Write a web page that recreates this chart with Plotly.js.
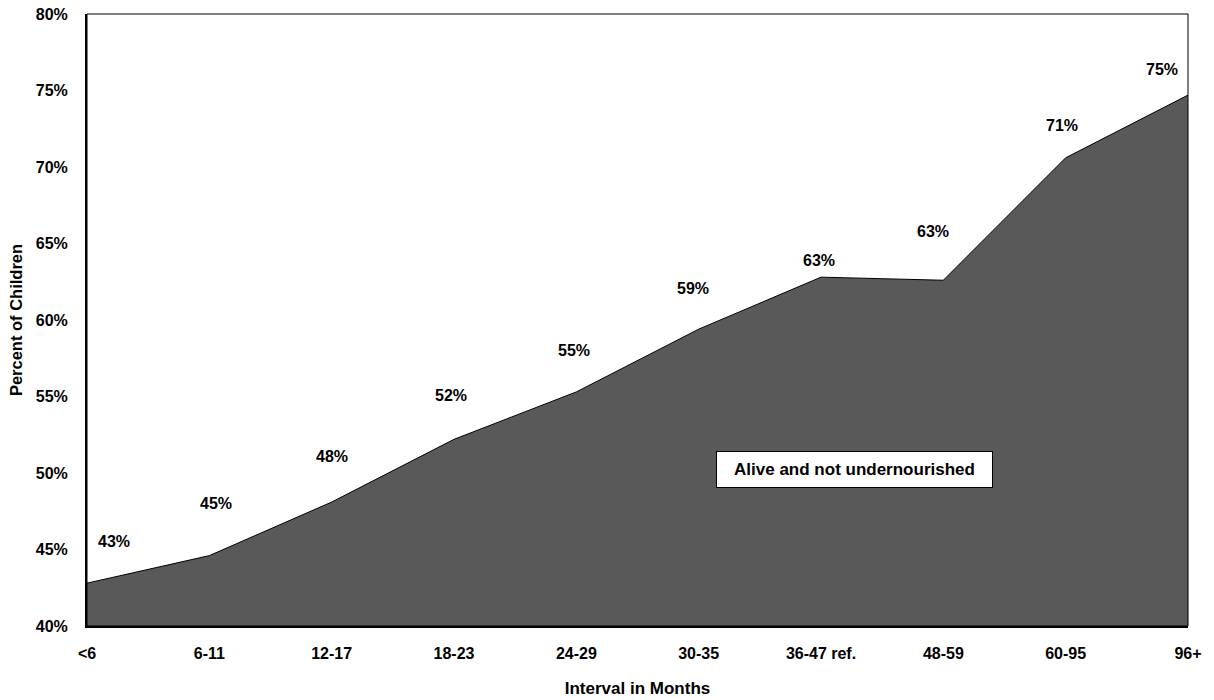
<!DOCTYPE html>
<html>
<head>
<meta charset="utf-8">
<script src="https://cdn.plot.ly/plotly-3.0.1.min.js"></script>
<style>
  html, body { margin: 0; padding: 0; background: #ffffff; }
  #chart { width: 1214px; height: 700px; }
</style>
</head>
<body>
<div id="chart"></div>
<script>
// Birth interval categories (months) and share of children alive and not undernourished
const intervals = ['<6', '6-11', '12-17', '18-23', '24-29', '30-35', '36-47 ref.', '48-59', '60-95', '96+'];
const percentAlive = [42.8, 44.6, 48.1, 52.2, 55.3, 59.4, 62.8, 62.6, 70.6, 74.7];
const yTickValues = [40, 45, 50, 55, 60, 65, 70, 75, 80];

// Pixel offsets for the value labels sitting above the area edge
const labelShiftX = [27, 7, 0, -3, -2, -6, -2, -10, -4, -26];
const labelShiftY = [42, 52, 46, 44, 41, 41, 17, 49, 32, 26];

const font = 'Liberation Sans, Arial, sans-serif';

const area = {
  type: 'scatter',
  mode: 'lines',
  x: intervals,
  y: percentAlive,
  fill: 'tozeroy',
  fillcolor: '#595959',
  line: { color: '#000000', width: 1 },
  hoverinfo: 'x+y',
  showlegend: false
};

const valueLabels = intervals.map((cat, i) => ({
  x: cat,
  y: percentAlive[i],
  xref: 'x',
  yref: 'y',
  text: '<b>' + Math.round(percentAlive[i]) + '%</b>',
  showarrow: false,
  xanchor: 'center',
  yanchor: 'middle',
  xshift: labelShiftX[i],
  yshift: labelShiftY[i],
  font: { family: font, size: 16, color: '#000000' }
}));

const seriesLabel = {
  x: 0.6975, y: 0.255, xref: 'paper', yref: 'paper',
  xanchor: 'center', yanchor: 'middle',
  text: '<b>Alive and not undernourished</b>',
  showarrow: false,
  bgcolor: '#ffffff',
  bordercolor: '#000000',
  borderwidth: 1,
  borderpad: 8,
  width: 259,
  font: { family: font, size: 17, color: '#000000' }
};

const layout = {
  width: 1214,
  height: 700,
  margin: { l: 87, r: 26, t: 14, b: 74 },
  paper_bgcolor: '#ffffff',
  plot_bgcolor: '#ffffff',
  font: { family: font, color: '#000000' },
  xaxis: {
    type: 'category',
    range: [0, intervals.length - 1],
    showgrid: false,
    zeroline: false,
    showline: true,
    linecolor: '#000000',
    linewidth: 2,
    ticks: '',
    ticklabelstandoff: 12,
    tickfont: { family: font, size: 16, color: '#000000', weight: 'bold' },
    title: { text: '<b>Interval in Months</b>', font: { family: font, size: 17, color: '#000000' }, standoff: 21 }
  },
  yaxis: {
    range: [40, 80],
    tickvals: yTickValues,
    ticktext: yTickValues.map(v => v + '%'),
    showgrid: false,
    zeroline: false,
    showline: true,
    linecolor: '#000000',
    linewidth: 2,
    ticks: '',
    ticklabelstandoff: 14,
    tickfont: { family: font, size: 16, color: '#000000', weight: 'bold' },
    title: { text: '<b>Percent of Children</b>', font: { family: font, size: 16.5, color: '#000000' }, standoff: 9 }
  },
  shapes: [{
    type: 'rect', xref: 'paper', yref: 'paper',
    x0: 0, x1: 1, y0: 0, y1: 1,
    line: { color: '#000000', width: 1 },
    layer: 'above'
  }],
  annotations: valueLabels.concat([seriesLabel]),
  showlegend: false
};

Plotly.newPlot('chart', [area], layout, { displayModeBar: false, staticPlot: true });
</script>
</body>
</html>
